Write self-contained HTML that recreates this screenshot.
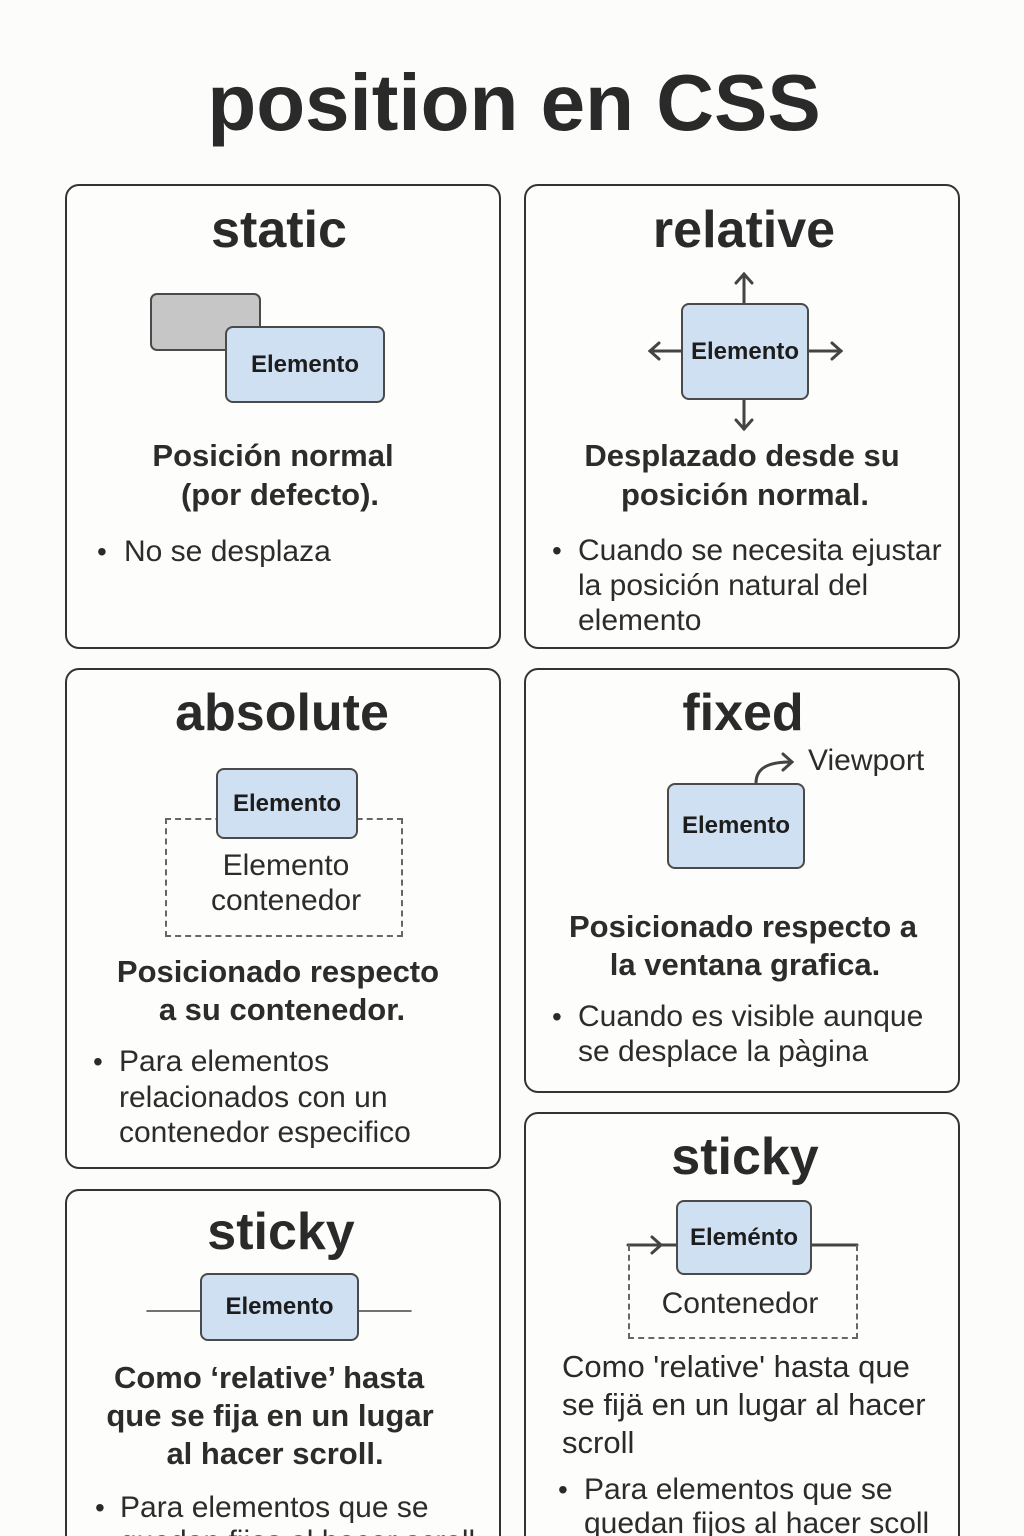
<!DOCTYPE html>
<html style="overflow:hidden"><head><meta charset="utf-8"><style>
html,body{margin:0;padding:0}
body{width:1024px;height:1536px;background:#fcfcfa;overflow:hidden;font-family:"Liberation Sans",sans-serif;color:#2a2a2a}
#w{position:relative;width:1024px;height:1536px;overflow:hidden}
.a{position:absolute}
.card{position:absolute;border:2px solid #333;border-radius:14px;box-sizing:border-box;background:#fdfdfb}
.c{position:absolute;white-space:nowrap;transform:translateX(-50%);text-align:center}
.l{position:absolute;white-space:nowrap}
.h1{font-size:52px;font-weight:bold;line-height:56px}
.hd{font-size:31px;font-weight:bold;line-height:38px;color:#2c2c2c}
.tx{font-size:30px;line-height:36px;color:#2c2c2c}
.bl{position:absolute;font-size:28px;line-height:36px}
.box{position:absolute;background:#cfe0f3;border:2.5px solid #4a4a4a;border-radius:8px;box-sizing:border-box;display:flex;align-items:center;justify-content:center;font-size:24px;font-weight:bold;color:#1d1d1d}
.dash{position:absolute;border:2px dashed #666;box-sizing:border-box}
</style></head><body><div id="w">
<div class="c" style="left:514px;top:58px;font-size:80px;font-weight:bold;line-height:90px;color:#2a2a2a">position en CSS</div>

<div class="card" style="left:65px;top:184px;width:436px;height:465px"></div>
<div class="card" style="left:524px;top:184px;width:436px;height:465px"></div>
<div class="card" style="left:65px;top:668px;width:436px;height:501px"></div>
<div class="card" style="left:524px;top:668px;width:436px;height:425px"></div>
<div class="card" style="left:65px;top:1189px;width:436px;height:400px"></div>
<div class="card" style="left:524px;top:1112px;width:436px;height:480px"></div>

<!-- static -->
<div class="c h1" style="left:279px;top:202px">static</div>
<div class="a" style="left:150px;top:293px;width:111px;height:58px;background:#c6c6c6;border:2.5px solid #4a4a4a;border-radius:7px;box-sizing:border-box"></div>
<div class="box" style="left:225px;top:326px;width:160px;height:77px">Elemento</div>
<div class="c hd" style="left:273px;top:437px">Posición normal</div>
<div class="c hd" style="left:280px;top:476px">(por defecto).</div>
<div class="bl" style="left:97px;top:534px">•</div>
<div class="l tx" style="left:124px;top:534px">No se desplaza</div>

<!-- relative -->
<div class="c h1" style="left:744px;top:202px">relative</div>
<svg class="a" style="left:0;top:0" width="1024" height="1536">
<g stroke="#444" stroke-width="3" fill="none" stroke-linecap="round">
<line x1="744" y1="303" x2="744" y2="274"/><polyline points="736,283 744,274 752,283"/>
<line x1="744" y1="400" x2="744" y2="429"/><polyline points="736,420 744,429 752,420"/>
<line x1="681" y1="351" x2="650" y2="351"/><polyline points="659,343 650,351 659,359"/>
<line x1="809" y1="351" x2="841" y2="351"/><polyline points="832,343 841,351 832,359"/>
<path d="M756 783 C756 770 765 762 790 762"/><polyline points="783,754 792,762 783,770"/>
<line x1="147" y1="1311" x2="200" y2="1311" stroke-width="1.5"/>
<line x1="359" y1="1311" x2="411" y2="1311" stroke-width="1.5"/>
<line x1="628" y1="1245" x2="676" y2="1245"/><polyline points="652,1237 661,1245 652,1253"/>
<line x1="812" y1="1245" x2="857" y2="1245"/>
</g></svg>
<div class="box" style="left:681px;top:303px;width:128px;height:97px">Elemento</div>
<div class="c hd" style="left:742px;top:437px">Desplazado desde su</div>
<div class="c hd" style="left:745px;top:476px">posición normal.</div>
<div class="bl" style="left:552px;top:533px">•</div>
<div class="l tx" style="left:578px;top:533px">Cuando se necesita ejustar</div>
<div class="l tx" style="left:578px;top:568px">la posición natural del</div>
<div class="l tx" style="left:578px;top:603px">elemento</div>

<!-- absolute -->
<div class="c h1" style="left:282px;top:685px">absolute</div>
<div class="dash" style="left:165px;top:818px;width:238px;height:119px"></div>
<div class="box" style="left:216px;top:768px;width:142px;height:71px">Elemento</div>
<div class="c tx" style="left:286px;top:848px">Elemento</div>
<div class="c tx" style="left:286px;top:883px">contenedor</div>
<div class="c hd" style="left:278px;top:953px">Posicionado respecto</div>
<div class="c hd" style="left:282px;top:991px">a su contenedor.</div>
<div class="bl" style="left:93px;top:1044px">•</div>
<div class="l tx" style="left:119px;top:1044px">Para elementos</div>
<div class="l tx" style="left:119px;top:1080px">relacionados con un</div>
<div class="l tx" style="left:119px;top:1115px">contenedor especifico</div>

<!-- fixed -->
<div class="c h1" style="left:743px;top:685px">fixed</div>
<div class="l tx" style="left:808px;top:743px">Viewport</div>
<div class="box" style="left:667px;top:783px;width:138px;height:86px">Elemento</div>
<div class="c hd" style="left:743px;top:908px">Posicionado respecto a</div>
<div class="c hd" style="left:745px;top:946px">la ventana grafica.</div>
<div class="bl" style="left:552px;top:999px">•</div>
<div class="l tx" style="left:578px;top:999px">Cuando es visible aunque</div>
<div class="l tx" style="left:578px;top:1034px">se desplace la pàgina</div>

<!-- sticky right -->
<div class="c h1" style="left:745px;top:1129px">sticky</div>
<div class="dash" style="left:628px;top:1245px;width:230px;height:94px;border-top:none"></div>
<div class="box" style="left:676px;top:1200px;width:136px;height:75px">Eleménto</div>
<div class="c tx" style="left:740px;top:1286px">Contenedor</div>
<div class="l" style="left:562px;top:1348px;font-size:31px;line-height:38px">Como 'relative' hasta que</div>
<div class="l" style="left:562px;top:1386px;font-size:31px;line-height:38px">se fijä en un lugar al hacer</div>
<div class="l" style="left:562px;top:1424px;font-size:31px;line-height:38px">scroll</div>
<div class="bl" style="left:558px;top:1472px">•</div>
<div class="l tx" style="left:584px;top:1472px">Para elementos que se</div>
<div class="l tx" style="left:584px;top:1506px">quedan fijos al hacer scoll</div>

<!-- sticky left -->
<div class="c h1" style="left:281px;top:1204px">sticky</div>
<div class="box" style="left:200px;top:1273px;width:159px;height:68px">Elemento</div>
<div class="c hd" style="left:269px;top:1359px">Como ‘relative’ hasta</div>
<div class="c hd" style="left:270px;top:1397px">que se fija en un lugar</div>
<div class="c hd" style="left:275px;top:1435px">al hacer scroll.</div>
<div class="bl" style="left:95px;top:1490px">•</div>
<div class="l tx" style="left:120px;top:1490px">Para elementos que se</div>
<div class="l tx" style="left:120px;top:1524px">quedan fijos al hacer scroll</div>
</div></body></html>
